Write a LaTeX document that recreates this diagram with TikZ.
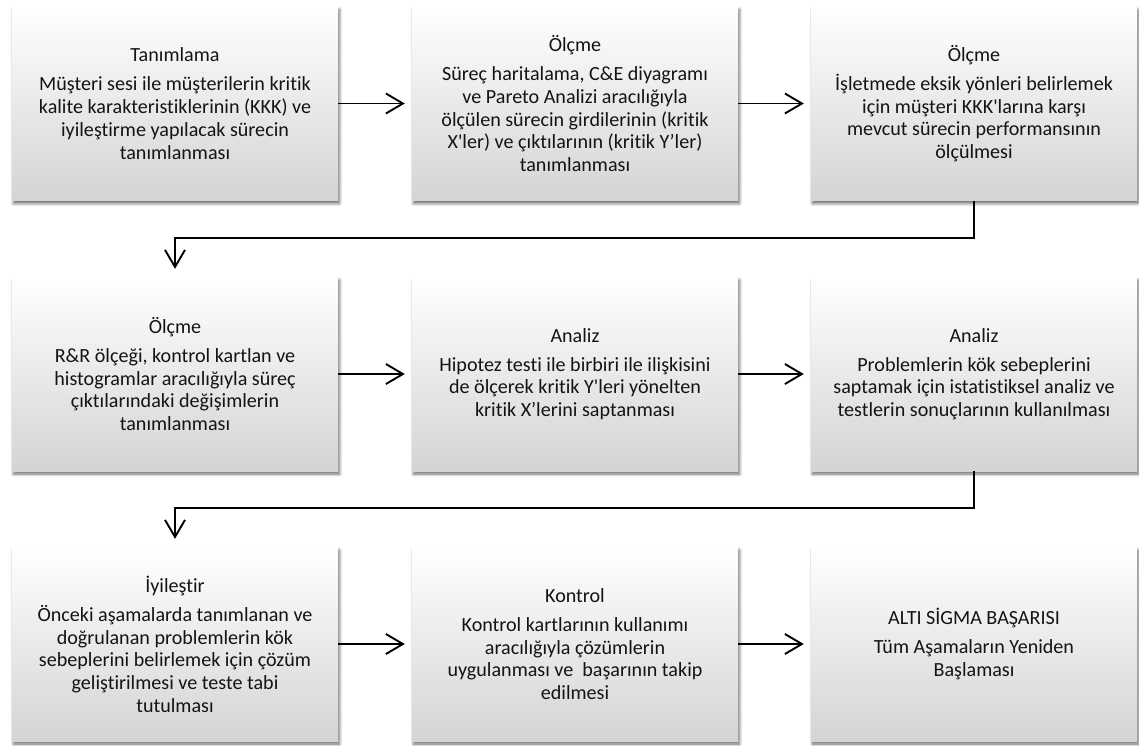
\documentclass[tikz,border=0pt]{standalone}
\usepackage{fontspec}
\newfontfamily\carl{Carlito}[Ligatures=CommonOff]
\usetikzlibrary{arrows.meta,shadows.blur}
\definecolor{boxbottom}{RGB}{212,212,212}
\definecolor{ink}{RGB}{20,20,20}
\tikzset{
  stage/.style={rectangle, minimum width=326pt, minimum height=194pt, inner sep=0pt,
    top color=white, bottom color=boxbottom, draw=none,
    blur shadow={shadow xshift=1.5pt, shadow yshift=-3pt, shadow blur radius=3pt,
      shadow blur steps=6, shadow opacity=60},
    align=center, text=ink,
    font=\carl\fontsize{20.1pt}{22.7pt}\selectfont},
  conn/.style={line width=1.9pt, -{Straight Barb[length=17pt,width=20pt,line width=1.9pt]},
    shorten >=7pt},
}
\newcommand{\ttl}[1]{#1\\[6.5pt]}
\begin{document}
\begin{tikzpicture}[x=1pt,y=-1pt]
\useasboundingbox (0,0) rectangle (1139,745);
% row 1
\node[stage] (b1) at (175,103.5) {\ttl{Tanımlama}Müşteri sesi ile müşterilerin kritik\\kalite karakteristiklerinin (KKK) ve\\iyileştirme yapılacak sürecin\\tanımlanması};
\node[stage] (b2) at (575,103.5) {\ttl{Ölçme}Süreç haritalama, C\&E diyagramı\\ve Pareto Analizi aracılığıyla\\ölçülen sürecin girdilerinin (kritik\\X'ler) ve çıktılarının (kritik Y’ler)\\tanımlanması};
\node[stage] (b3) at (974,103.5) {\ttl{Ölçme}İşletmede eksik yönleri belirlemek\\için müşteri KKK'larına karşı\\mevcut sürecin performansının\\ölçülmesi};
% row 2
\node[stage] (b4) at (175,374) {\ttl{Ölçme}R\&R ölçeği, kontrol kartlan ve\\histogramlar aracılığıyla süreç\\çıktılarındaki değişimlerin\\tanımlanması};
\node[stage] (b5) at (575,374) {\ttl{Analiz}Hipotez testi ile birbiri ile ilişkisini\\de ölçerek kritik Y'leri yönelten\\kritik X’lerini saptanması};
\node[stage] (b6) at (974,374) {\ttl{Analiz}Problemlerin kök sebeplerini\\saptamak için istatistiksel analiz ve\\testlerin sonuçlarının kullanılması};
% row 3
\node[stage] (b7) at (175,644) {\ttl{İyileştir}Önceki aşamalarda tanımlanan ve\\doğrulanan problemlerin kök\\sebeplerini belirlemek için çözüm\\geliştirilmesi ve teste tabi\\tutulması};
\node[stage] (b8) at (575,644) {\ttl{Kontrol}Kontrol kartlarının kullanımı\\aracılığıyla çözümlerin\\uygulanması ve~ başarının takip\\edilmesi};
\node[stage] (b9) at (974,644) {\ttl{ALTI SİGMA BAŞARISI}Tüm Aşamaların Yeniden\\Başlaması};
% connectors
\draw[conn] (b1.east) -- (b2.west);
\draw[conn] (b2.east) -- (b3.west);
\draw[conn] (b4.east) -- (b5.west);
\draw[conn] (b5.east) -- (b6.west);
\draw[conn] (b7.east) -- (b8.west);
\draw[conn] (b8.east) -- (b9.west);
\draw[conn, shorten >=8pt] (b3.south) -- ++(0,37) -| (b4.north);
\draw[conn, shorten >=8pt] (b6.south) -- ++(0,37) -| (b7.north);
\end{tikzpicture}
\end{document}
